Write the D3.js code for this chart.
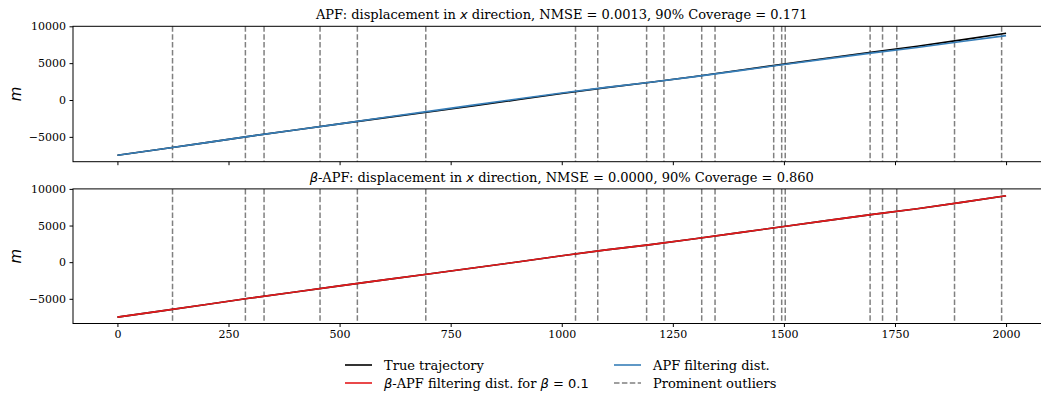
<!DOCTYPE html>
<html>
<head>
<meta charset="utf-8">
<script src="https://cdn.jsdelivr.net/npm/d3@7"></script>
<style>
    body { margin: 0; background: #fff; }
    svg { display: block; }
    .tick text { font-family: 'DejaVu Serif', serif; font-size: 11px; fill: #000; }
    .tick line, .domain { stroke: #000; }
</style>
</head>
<body>
<div id="chart"></div>
<script>
const steps = [0, 100, 200, 300, 400, 500, 600, 700, 800, 900, 1000,
               1100, 1200, 1300, 1400, 1500, 1600, 1700, 1800, 1900, 2000];

// True x displacement (m)
const truthValues = [-7500, -6650, -5780, -4900, -4080, -3240, -2420, -1620, -800, 30, 880,
                     1680, 2400, 3190, 4030, 4870, 5700, 6520, 7300, 8160, 9060];

// APF filtering distribution mean
const apfValues = [-7500, -6650, -5780, -4900, -4080, -3240, -2380, -1540, -700, 130, 940,
                   1710, 2400, 3170, 3990, 4810, 5610, 6390, 7130, 7940, 8740];

// beta-APF filtering distribution mean
const betaValues = [-7500, -6650, -5775, -4900, -4080, -3240, -2420, -1620, -800, 30, 880,
                    1680, 2400, 3190, 4030, 4870, 5700, 6520, 7300, 8160, 9060];

// Prominent outlier time steps
const outliers = [124, 288, 330, 456, 540, 694, 1031, 1081, 1191, 1230,
                  1315, 1345, 1477, 1495, 1503, 1694, 1722, 1754, 1884, 1990];

const xTicks = [0, 250, 500, 750, 1000, 1250, 1500, 1750, 2000];
const yTicks = [-5000, 0, 5000, 10000];

const COLORS = { truth: '#000000', apf: '#377eb8', beta: '#e41a1c', outlier: '#808080' };

const W = 1041, H = 396;
const svg = d3.select('#chart').append('svg')
    .attr('width', W)
    .attr('height', H);

const xScale = d3.scaleLinear()
    .domain([-100, 2100])
    .range([73, 1050.5]);

// Format ticks with a real minus sign like matplotlib
const fmt = d => d < 0 ? '\u2212' + Math.abs(d) : String(d);

// Draw one panel (axes box, outliers, lines, title)
function drawPanel(top, bottom, series, titleParts, showXLabels) {
    const yScale = d3.scaleLinear()
        .domain([-8370, 10000])
        .range([bottom, top]);

    const g = svg.append('g');

    // Outlier markers
    g.selectAll('.outlier')
        .data(outliers)
        .enter()
        .append('line')
        .attr('x1', d => xScale(d))
        .attr('x2', d => xScale(d))
        .attr('y1', top)
        .attr('y2', bottom)
        .attr('stroke', COLORS.outlier)
        .attr('stroke-width', 1.5)
        .attr('stroke-dasharray', '5.5,2.4');

    const line = d3.line()
        .x(d => xScale(d[0]))
        .y(d => yScale(d[1]));

    series.forEach(s => {
        g.append('path')
            .datum(steps.map((t, i) => [t, s.values[i]]))
            .attr('d', line)
            .attr('fill', 'none')
            .attr('stroke', s.color)
            .attr('stroke-width', 1.6);
    });

    // Axes
    const xAxis = d3.axisBottom(xScale)
        .tickValues(xTicks)
        .tickSize(3.5)
        .tickPadding(3.5)
        .tickFormat(showXLabels ? d => d : '');
    g.append('g')
        .attr('transform', `translate(0,${bottom})`)
        .call(xAxis)
        .call(a => a.select('.domain').remove());

    const yAxis = d3.axisLeft(yScale)
        .tickValues(yTicks)
        .tickSize(3.5)
        .tickPadding(3.5)
        .tickFormat(fmt);
    g.append('g')
        .attr('transform', `translate(${xScale.range()[0]},0)`)
        .call(yAxis)
        .call(a => a.select('.domain').remove());

    // Frame
    g.append('rect')
        .attr('x', xScale.range()[0])
        .attr('y', top)
        .attr('width', xScale.range()[1] - xScale.range()[0])
        .attr('height', bottom - top)
        .attr('fill', 'none')
        .attr('stroke', '#000')
        .attr('stroke-width', 1);

    // Title, centred on the full axes
    const title = g.append('text')
        .attr('x', (xScale.range()[0] + xScale.range()[1]) / 2)
        .attr('y', top - 7)
        .attr('text-anchor', 'middle')
        .attr('font-family', 'DejaVu Serif')
        .attr('font-size', '13px');
    titleParts.forEach(p => {
        title.append('tspan')
            .attr('font-family', p.math ? 'DejaVu Sans' : null)
            .attr('font-style', p.math ? 'italic' : null)
            .text(p.t);
    });

    // y label
    g.append('text')
        .attr('transform', `translate(21,${(top + bottom) / 2}) rotate(-90)`)
        .attr('text-anchor', 'middle')
        .attr('font-family', 'DejaVu Sans')
        .attr('font-style', 'italic')
        .attr('font-size', '15px')
        .text('m');
}

drawPanel(26.3, 161.7,
    [{ values: truthValues, color: COLORS.truth }, { values: apfValues, color: COLORS.apf }],
    [{ t: 'APF: displacement in ' }, { t: 'x', math: true },
     { t: ' direction, NMSE = 0.0013, 90% Coverage = 0.171' }],
    false);

drawPanel(188.9, 323.5,
    [{ values: truthValues, color: COLORS.truth }, { values: betaValues, color: COLORS.beta }],
    [{ t: 'β', math: true }, { t: '-APF: displacement in ' }, { t: 'x', math: true },
     { t: ' direction, NMSE = 0.0000, 90% Coverage = 0.860' }],
    true);

// Legend (two columns, no frame)
const legendItems = [
    { col: 0, row: 0, color: COLORS.truth, dash: null, parts: [{ t: 'True trajectory' }] },
    { col: 0, row: 1, color: COLORS.beta, dash: null,
      parts: [{ t: 'β', math: true }, { t: '-APF filtering dist. for ' }, { t: 'β', math: true },
              { t: ' = 0.1', sans: true }] },
    { col: 1, row: 0, color: COLORS.apf, dash: null, parts: [{ t: 'APF filtering dist.' }] },
    { col: 1, row: 1, color: COLORS.outlier, dash: '5.5,2.4', parts: [{ t: 'Prominent outliers' }] }
];
const colX = [345, 614];
const rowY = [365, 383];

const legend = svg.append('g').attr('class', 'legend');
legendItems.forEach(it => {
    const x0 = colX[it.col], y0 = rowY[it.row];
    legend.append('line')
        .attr('x1', x0).attr('x2', x0 + 27)
        .attr('y1', y0).attr('y2', y0)
        .attr('stroke', it.color)
        .attr('stroke-width', 1.6)
        .attr('stroke-dasharray', it.dash);
    const txt = legend.append('text')
        .attr('x', x0 + 39)
        .attr('y', y0 + 4.5)
        .attr('font-family', 'DejaVu Serif')
        .attr('font-size', '13px');
    it.parts.forEach(p => {
        txt.append('tspan')
            .attr('font-family', (p.math || p.sans) ? 'DejaVu Sans' : null)
            .attr('font-style', p.math ? 'italic' : null)
            .text(p.t);
    });
});
</script>
</body>
</html>
